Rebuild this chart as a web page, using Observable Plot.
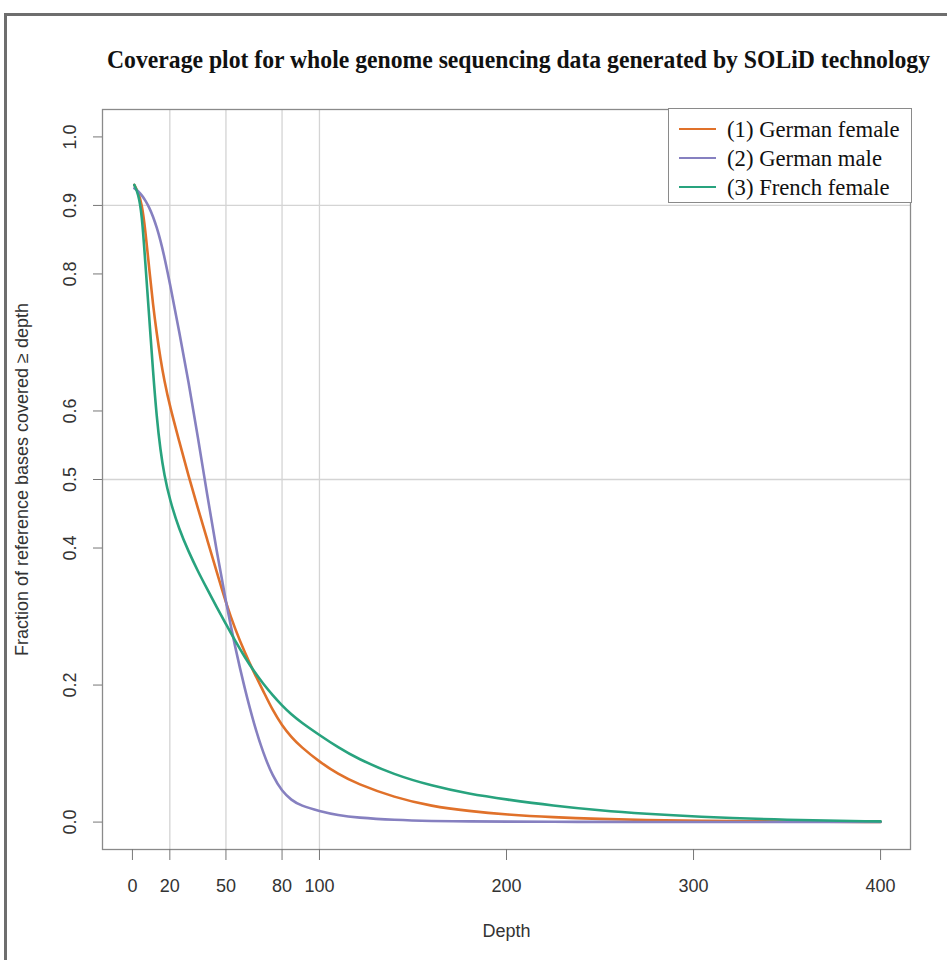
<!DOCTYPE html>
<html>
<head>
<meta charset="utf-8">
<script src="https://cdn.jsdelivr.net/npm/d3@7"></script>
<script src="https://cdn.jsdelivr.net/npm/@observablehq/plot@0.6"></script>
<style>
  html, body { margin: 0; padding: 0; background: #fff; width: 947px; height: 960px; overflow: hidden; }
  #wrap { position: relative; width: 947px; height: 960px; }
  #border { position: absolute; left: 4px; top: 13px; width: 1000px; height: 1000px;
            border-left: 3px solid #6e6e6e; border-top: 3px solid #6e6e6e; box-sizing: border-box; pointer-events: none; z-index: 5; }
  #title { position: relative; height: 95px; }
  #title span { position: absolute; left: 107px; top: 46px; white-space: nowrap; line-height: 1;
                font: bold 25px "Liberation Serif", "Times New Roman", serif; color: #111; transform-origin: 0 0; }
  #chart svg { display: block; }
  #legend { position: absolute; left: 668px; top: 108px; width: 244px; height: 95px; box-sizing: border-box;
            border: 1px solid #8a8a8a; background: #fff; z-index: 4; }
  .item { position: absolute; left: 0; height: 24px; width: 240px; }
  .item .sw { position: absolute; left: 10px; top: 11px; width: 37px; height: 0; border-top: 2.6px solid; }
  .item .lb { position: absolute; left: 58px; top: 0; line-height: 24px; white-space: nowrap;
              font: 22.7px "Liberation Serif", "Times New Roman", serif; color: #111; }
</style>
</head>
<body>
<div id="wrap">
  <div id="border"></div>
  <div id="title"><span id="titletext">Coverage plot for whole genome sequencing data generated by SOLiD technology</span></div>
  <div id="chart"></div>
  <div id="legend"></div>
</div>
<script>
// ---- data ----
const depth = [1, 3, 5, 7, 9, 11, 13, 15, 17, 20, 25, 30, 35, 40, 45, 50, 55, 60, 65, 70, 75, 80, 85, 90, 100, 110, 120, 140, 160, 180, 200, 225, 250, 275, 300, 350, 400];
const germanFemale = [0.930, 0.920, 0.903, 0.862, 0.807, 0.755, 0.713, 0.676, 0.645, 0.607,
                      0.556, 0.505, 0.458, 0.412, 0.366, 0.320, 0.281, 0.248, 0.218, 0.191,
                      0.163, 0.141, 0.124, 0.110, 0.088, 0.070, 0.056, 0.036, 0.023, 0.016,
                      0.011, 0.007, 0.0045, 0.003, 0.002, 0.0008, 0.0003];
const germanMale   = [0.925, 0.921, 0.915, 0.907, 0.897, 0.884, 0.868, 0.849, 0.826, 0.787,
                      0.716, 0.643, 0.562, 0.477, 0.396, 0.321, 0.254, 0.195, 0.143, 0.100,
                      0.067, 0.045, 0.032, 0.024, 0.016, 0.010, 0.0065, 0.003, 0.0015, 0.001,
                      0.0006, 0.0004, 0.0003, 0.0002, 0.0002, 0.0001, 0.0001];
const frenchFemale = [0.930, 0.918, 0.890, 0.812, 0.736, 0.658, 0.590, 0.542, 0.507, 0.470,
                      0.427, 0.395, 0.366, 0.340, 0.314, 0.289, 0.264, 0.241, 0.220, 0.2015,
                      0.185, 0.170, 0.157, 0.146, 0.127, 0.109, 0.093, 0.069, 0.053, 0.041,
                      0.033, 0.024, 0.017, 0.012, 0.008, 0.003, 0.001];
const seriesNames = ["(1) German female", "(2) German male", "(3) French female"];
const seriesColors = ["#E0712A", "#8680C0", "#28A37E"];
const xTicks = [0, 20, 50, 80, 100, 200, 300, 400];
const yTicks = [0, 0.2, 0.4, 0.5, 0.6, 0.8, 0.9, 1.0];
const xGrid = [20, 50, 80, 100];
const yGrid = [0.5, 0.9];
const xLabel = "Depth";
const yLabel = "Fraction of reference bases covered \u2265 depth";

const rows = [];
[germanFemale, germanMale, frenchFemale].forEach((vals, i) =>
  vals.forEach((v, j) => rows.push({depth: depth[j], frac: v, series: seriesNames[i]})));

const chart = Plot.plot({
  width: 947,
  height: 865,
  marginTop: 14,
  marginBottom: 111,
  marginLeft: 102,
  marginRight: 37,
  style: {fontFamily: "'Liberation Sans', Arial, sans-serif", fontSize: "18px", color: "#333", background: "#fff"},
  x: {domain: [-16, 416], axis: null},
  y: {domain: [-0.04, 1.04], axis: null},
  color: {domain: seriesNames, range: seriesColors},
  marks: [
    Plot.ruleX(xGrid, {stroke: "#d4d4d4", strokeWidth: 1.3}),
    Plot.ruleY(yGrid, {stroke: "#d4d4d4", strokeWidth: 1.3}),
    Plot.line(rows, {x: "depth", y: "frac", z: "series", stroke: "series", strokeWidth: 2.6, curve: "basis"}),
    Plot.frame({stroke: "#8a8a8a", strokeWidth: 1.3}),
    Plot.axisX(xTicks, {tickSize: 11, tickPadding: 19, stroke: "#777", fill: "#333", label: null, tickFormat: d => String(d), fontSize: 18}),
    Plot.axisY(yTicks, {tickSize: 9, fill: "none", stroke: "#777", label: null}),
    Plot.text(yTicks, {y: d => d, frameAnchor: "left", textAnchor: "middle", dx: -32, rotate: -90, text: d => d.toFixed(1), fontSize: 18, fill: "#333"}),
    Plot.text([xLabel], {frameAnchor: "bottom", dy: 87, text: d => d, fontSize: 18, fill: "#333"}),
    Plot.text([yLabel], {frameAnchor: "left", textAnchor: "middle", dx: -80, rotate: -90, text: d => d, fontSize: 18, fill: "#333"})
  ]
});
document.getElementById("chart").appendChild(chart);

// title: fit to the reference width
const t = document.getElementById("titletext");
const w = t.getBoundingClientRect().width;
t.style.transform = `scaleX(${823 / w})`;

// legend
const legend = document.getElementById("legend");
seriesNames.forEach((name, i) => {
  const item = document.createElement("div");
  item.className = "item";
  item.style.top = (8 + 29 * i) + "px";
  item.innerHTML = `<div class="sw" style="border-top-color:${seriesColors[i]}"></div><div class="lb">${name}</div>`;
  legend.appendChild(item);
});
</script>
</body>
</html>
